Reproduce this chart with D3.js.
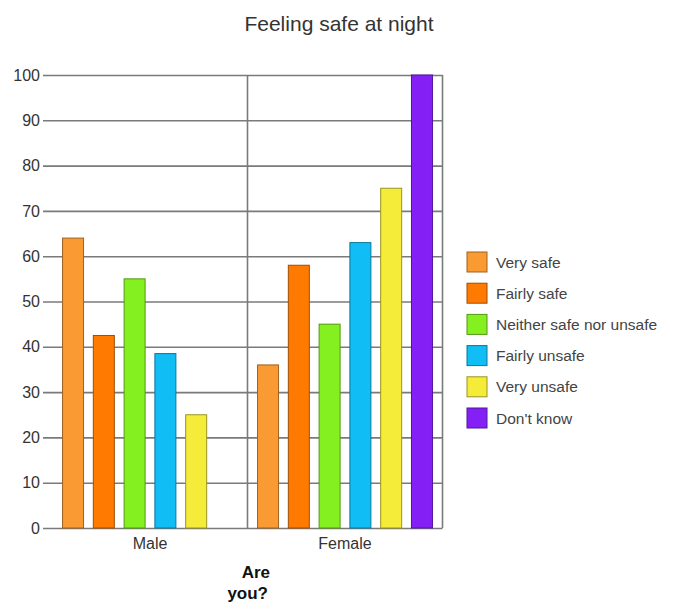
<!DOCTYPE html>
<html>
<head>
<meta charset="utf-8">
<script src="https://cdn.jsdelivr.net/npm/d3@7"></script>
<style>
  html, body { margin: 0; padding: 0; background: #fff; }
  svg { display: block; font-family: "Liberation Sans", Arial, sans-serif; }
</style>
</head>
<body>
<svg id="chart" width="677" height="612"></svg>
<script>
// Groups on the x axis and the answer options shown as bars in each group
const groups = ["Male", "Female"];
const answers = ["Very safe", "Fairly safe", "Neither safe nor unsafe", "Fairly unsafe", "Very unsafe", "Don't know"];
const maleValues = [64, 42.5, 55, 38.5, 25, 0];
const femaleValues = [36, 58, 45, 63, 75, 100];
const answerColors = ["#F99B32", "#FF7A00", "#84F020", "#10BDF5", "#F4EC38", "#8420F5"];
const yTicks = [0, 10, 20, 30, 40, 50, 60, 70, 80, 90, 100];

const valuesByGroup = { Male: maleValues, Female: femaleValues };
const rows = [];
groups.forEach(g => answers.forEach((a, i) => rows.push({ group: g, answer: a, value: valuesByGroup[g][i] })));

const svg = d3.select("#chart");
const plot = { left: 52.5, right: 442.5, top: 75, bottom: 528 };

const x = d3.scaleBand().domain(groups).range([plot.left, plot.right]).padding(0);
const xInner = d3.scaleBand().domain(answers).range([0, x.bandwidth()])
  .paddingInner(0.318).paddingOuter(0.326);
const y = d3.scaleLinear().domain([0, 100]).range([plot.bottom, plot.top]);
const color = d3.scaleOrdinal().domain(answers).range(answerColors);

// Title
svg.append("text")
  .attr("x", 339).attr("y", 31)
  .attr("text-anchor", "middle")
  .attr("font-size", 21).attr("fill", "#333")
  .text("Feeling safe at night");

// Horizontal gridlines, extending left as tick marks
const yAxis = d3.axisLeft(y).tickValues(yTicks)
  .tickSize(-(plot.right - 43)).tickPadding(3).tickFormat(d3.format("d"));
const gy = svg.append("g").attr("transform", "translate(43,0)").call(yAxis);
gy.select(".domain").remove();
gy.selectAll(".tick line").attr("stroke", "#7a7a7a").attr("stroke-width", 1.6);
gy.selectAll(".tick text")
  .attr("font-size", 16).attr("fill", "#333")
  .attr("font-family", "Liberation Sans, Arial, sans-serif");

// Vertical separators between groups and right border
const separators = [x("Female"), plot.right];
svg.append("g").selectAll("line").data(separators).join("line")
  .attr("x1", d => d).attr("x2", d => d)
  .attr("y1", plot.top).attr("y2", plot.bottom)
  .attr("stroke", "#7a7a7a").attr("stroke-width", 1.6);

// Bars
svg.append("g").selectAll("rect").data(rows.filter(r => r.value > 0)).join("rect")
  .attr("x", d => x(d.group) + xInner(d.answer))
  .attr("y", d => y(d.value))
  .attr("width", xInner.bandwidth())
  .attr("height", d => y(0) - y(d.value))
  .attr("fill", d => color(d.answer))
  .attr("stroke", d => d3.color(color(d.answer)).darker(1.3))
  .attr("stroke-width", 1);

// Group labels under the axis
const xAxis = d3.axisBottom(x).tickSize(0).tickPadding(10);
const gx = svg.append("g").attr("transform", `translate(0,${plot.bottom})`).call(xAxis);
gx.select(".domain").remove();
gx.selectAll(".tick text")
  .attr("font-size", 16).attr("fill", "#333")
  .attr("font-family", "Liberation Sans, Arial, sans-serif");

// X axis title, two lines
const xTitle = svg.append("g")
  .attr("text-anchor", "end")
  .attr("font-size", 17).attr("font-weight", "bold").attr("fill", "#111");
xTitle.append("text").attr("x", 270).attr("y", 578).text("Are");
xTitle.append("text").attr("x", 268).attr("y", 599).text("you?");

// Legend
const legend = svg.append("g").attr("transform", "translate(467,252)");
const item = legend.selectAll("g").data(answers).join("g")
  .attr("transform", (d, i) => `translate(0,${i * 31.2})`);
item.append("rect")
  .attr("width", 20).attr("height", 20)
  .attr("fill", d => color(d))
  .attr("stroke", d => d3.color(color(d)).darker(1.3))
  .attr("stroke-width", 1);
item.append("text")
  .attr("x", 29).attr("y", 15.5)
  .attr("font-size", 15.5).attr("fill", "#444")
  .text(d => d);
</script>
</body>
</html>
